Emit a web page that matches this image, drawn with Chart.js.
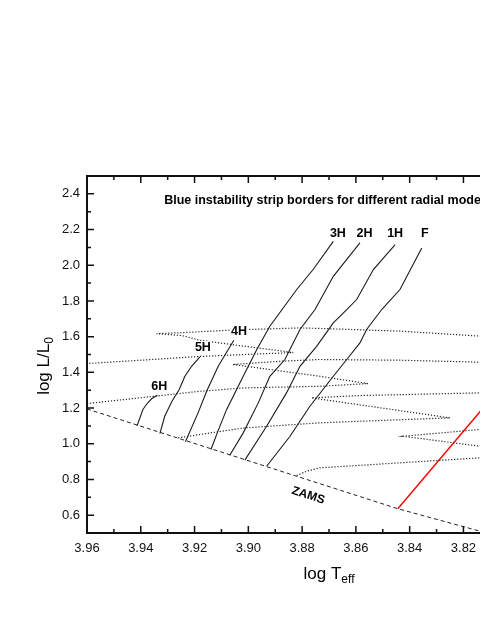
<!DOCTYPE html>
<html>
<head>
<meta charset="utf-8">
<title>Blue instability strip borders</title>
<script src="https://cdn.jsdelivr.net/npm/chart.js@4.4.1/dist/chart.umd.min.js"></script>
<style>
  html, body { margin: 0; padding: 0; background: #fff; overflow: hidden; }
  #wrap { position: absolute; left: 0; top: 0; width: 620px; height: 621px; }
</style>
</head>
<body>
<div id="wrap"><canvas id="hrChart"></canvas></div>
<script>
"use strict";

/* ── Data: [log Teff, log L/L0] ──────────────────────────────────────── */
const X_TICKS = [3.78, 3.80, 3.82, 3.84, 3.86, 3.88, 3.90, 3.92, 3.94, 3.96];
const Y_TICKS = [0.6, 0.8, 1.0, 1.2, 1.4, 1.6, 1.8, 2.0, 2.2, 2.4];

const ZAMS = [[3.965, 1.219], [3.96, 1.195], [3.8932, 0.872], [3.8444, 0.636], [3.8138, 0.510], [3.80, 0.455]];
const RED_EDGE = [[3.8444, 0.636], [3.80, 1.426]];

// blue edges of the instability strip, one per radial mode
const EDGE_6H = [[3.9414, 1.100], [3.9392, 1.192], [3.9379, 1.220], [3.9360, 1.252], [3.9338, 1.272]];
const EDGE_5H = [[3.9329, 1.057], [3.9311, 1.154], [3.9284, 1.238], [3.9257, 1.304], [3.9236, 1.378], [3.9211, 1.434], [3.9180, 1.487]];
const EDGE_4H = [[3.9234, 1.011], [3.9187, 1.173], [3.9155, 1.294], [3.9112, 1.434], [3.9054, 1.580]];
const EDGE_3H = [[3.9139, 0.968], [3.9113, 1.071], [3.9081, 1.191], [3.9019, 1.378], [3.8969, 1.527], [3.8920, 1.658], [3.8820, 1.864], [3.8759, 1.976], [3.8684, 2.134]];
const EDGE_2H = [[3.9069, 0.936], [3.9019, 1.061], [3.8963, 1.229], [3.8920, 1.378], [3.8864, 1.472], [3.8808, 1.640], [3.8752, 1.752], [3.8684, 1.938], [3.8585, 2.125]];
const EDGE_1H = [[3.9013, 0.908], [3.8932, 1.098], [3.8858, 1.285], [3.8808, 1.434], [3.8746, 1.546], [3.8684, 1.677], [3.8634, 1.752], [3.8597, 1.808], [3.8535, 1.976], [3.8454, 2.116]];
const EDGE_F = [[3.8932, 0.874], [3.8845, 1.042], [3.8771, 1.210], [3.8684, 1.378], [3.8634, 1.472], [3.8585, 1.565], [3.8560, 1.640], [3.8504, 1.752], [3.8436, 1.864], [3.8355, 2.097]];

const EDGES = [EDGE_6H, EDGE_5H, EDGE_4H, EDGE_3H, EDGE_2H, EDGE_1H, EDGE_F];
const MODE_LABELS = ["6H", "5H", "4H", "3H", "2H", "1H", "F"];
const MODE_LABEL_AT = [[3.9331, 1.326], [3.9169, 1.541], [3.9035, 1.632], [3.8667, 2.181], [3.8568, 2.181], [3.8454, 2.181], [3.8344, 2.181]];

// evolutionary tracks (dotted)
const TRACK_1 = [[3.79, 1.590], [3.8138, 1.603], [3.8436, 1.631], [3.8734, 1.646], [3.8808, 1.649], [3.9061, 1.637], [3.9236, 1.623], [3.9341, 1.617],
                 [3.9247, 1.606], [3.9180, 1.580], [3.9013, 1.546], [3.8833, 1.511], [3.9013, 1.500], [3.9180, 1.489], [3.96, 1.449], [3.97, 1.445]];
const TRACK_2 = [[3.96, 1.225], [3.9180, 1.294], [3.9013, 1.313], [3.8734, 1.322], [3.8555, 1.337], [3.8734, 1.378], [3.9058, 1.444],
                 [3.8883, 1.462], [3.8734, 1.472], [3.8436, 1.468], [3.8138, 1.457], [3.79, 1.450]];
const TRACK_3 = [[3.9261, 1.033], [3.9180, 1.052], [3.9013, 1.089], [3.8734, 1.117], [3.8585, 1.126], [3.8250, 1.145], [3.8765, 1.257],
                 [3.8585, 1.270], [3.8138, 1.285], [3.79, 1.293]];
const TRACK_4 = [[3.8820, 0.822], [3.8783, 0.846], [3.8734, 0.865], [3.8436, 0.893], [3.8138, 0.921], [3.795, 0.930], [3.795, 0.980],
                 [3.8138, 0.986], [3.8424, 1.042], [3.8138, 1.080], [3.79, 1.095]];
const TRACKS = [TRACK_1, TRACK_2, TRACK_3, TRACK_4];

const TITLE_TEXT = "Blue instability strip borders for different radial modes";
const TITLE_AT = [3.9313, 2.3436];
const ZAMS_AT = [3.8777, 0.710];

/* ── Helpers ─────────────────────────────────────────────────────────── */
const FONT = "'Liberation Sans', Arial, Helvetica, sans-serif";
const toXY = (pts) => pts.map(([x, y]) => ({ x, y }));

function lineSet(pts, color, width, dash) {
  return {
    data: toXY(pts),
    showLine: true,
    borderColor: color,
    borderWidth: width,
    borderDash: dash || [],
    pointRadius: 0,
    tension: 0,
    fill: false,
  };
}

function drawSub(ctx, main, sub, x, y, size, subSize) {
  ctx.font = `${size}px ${FONT}`;
  const w1 = ctx.measureText(main).width;
  ctx.font = `${subSize}px ${FONT}`;
  const w2 = ctx.measureText(sub).width;
  const x0 = x - (w1 + w2) / 2;
  ctx.textAlign = "left";
  ctx.textBaseline = "alphabetic";
  ctx.font = `${size}px ${FONT}`;
  ctx.fillText(main, x0, y);
  ctx.font = `${subSize}px ${FONT}`;
  ctx.fillText(sub, x0 + w1, y + 4);
}

/* ── Frame, inward ticks and annotations ─────────────────────────────── */
const framePlugin = {
  id: "frame",
  afterDatasetsDraw(chart) {
    const { ctx, chartArea: a, scales } = chart;
    const sx = scales.x, sy = scales.y;
    ctx.save();

    // mode labels
    ctx.fillStyle = "#000";
    ctx.font = `bold 12.5px ${FONT}`;
    ctx.textAlign = "center";
    ctx.textBaseline = "middle";
    MODE_LABELS.forEach((t, i) => {
      const px = sx.getPixelForValue(MODE_LABEL_AT[i][0]);
      const py = sy.getPixelForValue(MODE_LABEL_AT[i][1]);
      const w = ctx.measureText(t).width;
      ctx.fillStyle = "#fff";
      ctx.fillRect(px - w / 2 - 1, py - 6, w + 2, 12);
      ctx.fillStyle = "#000";
      ctx.fillText(t, px, py + 0.5);
    });

    // title inside the plot
    ctx.textAlign = "left";
    ctx.textBaseline = "alphabetic";
    ctx.fillText(TITLE_TEXT, sx.getPixelForValue(TITLE_AT[0]), sy.getPixelForValue(TITLE_AT[1]));

    // ZAMS label, parallel to the line
    ctx.save();
    ctx.translate(sx.getPixelForValue(ZAMS_AT[0]), sy.getPixelForValue(ZAMS_AT[1]));
    ctx.rotate((18 * Math.PI) / 180);
    ctx.font = `bold 12px ${FONT}`;
    ctx.textAlign = "center";
    ctx.textBaseline = "middle";
    ctx.fillText("ZAMS", 0, 0);
    ctx.restore();

    // inward ticks
    ctx.strokeStyle = "#111";
    ctx.lineWidth = 1.5;
    ctx.beginPath();
    for (let i = 0; i <= 18; i++) {
      const px = sx.getPixelForValue(3.78 + i * 0.01);
      const len = i % 2 === 0 ? 7 : 4;
      ctx.moveTo(px, a.bottom); ctx.lineTo(px, a.bottom - len);
      ctx.moveTo(px, a.top); ctx.lineTo(px, a.top + len);
    }
    for (let i = 0; i <= 20; i++) {
      const py = sy.getPixelForValue(0.5 + i * 0.1);
      const len = i % 2 === 1 ? 7 : 4;
      ctx.moveTo(a.left, py); ctx.lineTo(a.left + len, py);
      ctx.moveTo(a.right, py); ctx.lineTo(a.right - len, py);
    }
    ctx.stroke();

    // frame
    ctx.lineWidth = 2;
    ctx.strokeStyle = "#111";
    ctx.strokeRect(a.left, a.top, a.right - a.left, a.bottom - a.top);

    // axis titles
    ctx.fillStyle = "#000";
    drawSub(ctx, "log T", "eff", (a.left + a.right) / 2, 579, 17, 12);
    ctx.save();
    ctx.translate(49, 366);
    ctx.rotate(-Math.PI / 2);
    drawSub(ctx, "log L/L", "0", 0, 0, 17, 12);
    ctx.restore();

    ctx.restore();
  },
};

/* ── Chart ───────────────────────────────────────────────────────────── */
function initHRChart() {
  const canvas = document.getElementById("hrChart");
  if (!canvas) return;

  const datasets = [
    ...TRACKS.map((t) => lineSet(t, "#222", 1.2, [1.2, 1.8])),
    lineSet(ZAMS, "#222", 1, [4, 3]),
    ...EDGES.map((e) => lineSet(e, "#1a1a1a", 1.1)),
    lineSet(RED_EDGE, "#ff0000", 1.4),
  ];

  new Chart(canvas.getContext("2d"), {
    type: "scatter",
    data: { datasets },
    options: {
      responsive: true,
      maintainAspectRatio: false,
      animation: false,
      layout: { padding: { top: 176, right: 49, bottom: 0, left: 0 } },
      plugins: { legend: { display: false }, tooltip: { enabled: false } },
      scales: {
        x: {
          type: "linear",
          reverse: true,
          min: 3.78,
          max: 3.96,
          grid: { display: false, drawTicks: false },
          border: { display: false },
          afterBuildTicks: (s) => { s.ticks = X_TICKS.map((v) => ({ value: v })); },
          afterFit: (s) => { s.height = 88; },
          ticks: {
            autoSkip: false,
            maxRotation: 0,
            padding: 8,
            color: "#111",
            font: { family: FONT, size: 13 },
            callback: (v) => Number(v).toFixed(2),
          },
        },
        y: {
          type: "linear",
          min: 0.5,
          max: 2.5,
          grid: { display: false, drawTicks: false },
          border: { display: false },
          afterBuildTicks: (s) => { s.ticks = Y_TICKS.map((v) => ({ value: v })); },
          afterFit: (s) => { s.width = 87; },
          ticks: {
            padding: 7,
            color: "#111",
            font: { family: FONT, size: 13 },
            callback: (v) => Number(v).toFixed(1),
          },
        },
      },
    },
    plugins: [framePlugin],
  });
}

document.addEventListener("DOMContentLoaded", initHRChart);
</script>
</body>
</html>
